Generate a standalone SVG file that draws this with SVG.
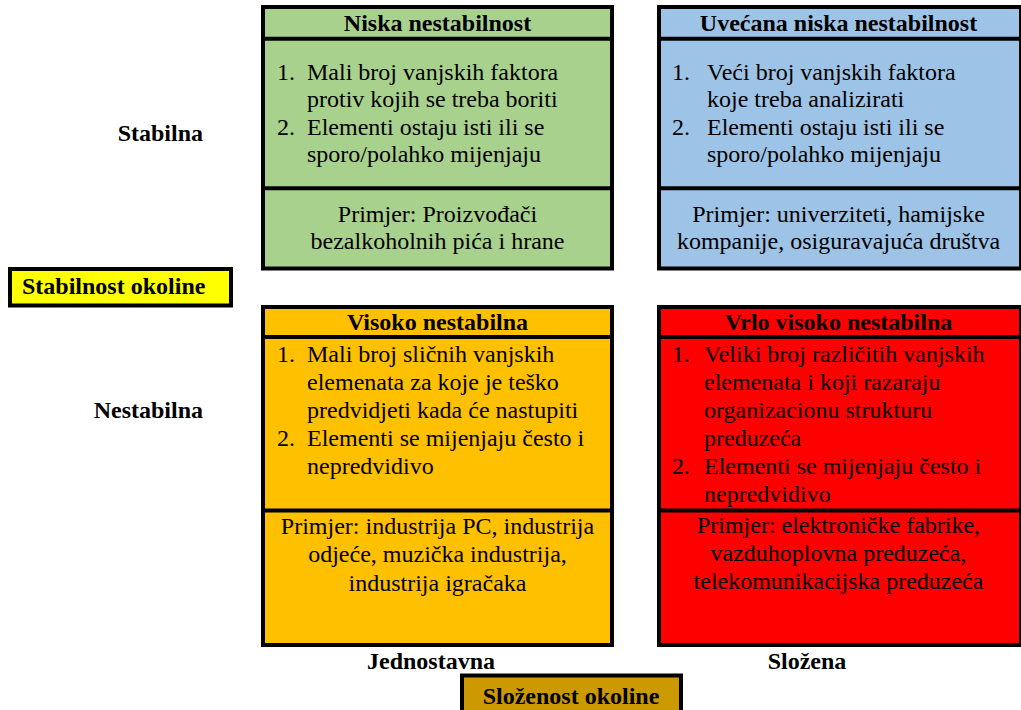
<svg xmlns="http://www.w3.org/2000/svg" width="1021" height="710" viewBox="0 0 1021 710">
  <style>
    text { font-family: "Liberation Serif", "Times New Roman", serif; fill: #000; font-size: 24px; }
    .box { stroke: #000; stroke-width: 4; }
    .rule { stroke: #000; stroke-width: 4; }
    .head { font-weight: bold; text-anchor: middle; }
    .mid { text-anchor: middle; }
    .axis { font-weight: bold; }
    .green { fill: #A9D18E; }
    .blue { fill: #9DC3E6; }
    .orange { fill: #FFC000; }
    .red { fill: #FF0000; }
  </style>

  <rect width="1021" height="710" fill="#fff"/>

  <!-- Quadrant: stable / simple -->
  <g id="niska-nestabilnost">
    <rect class="box green" x="263" y="7" width="349" height="261.5"/>
    <line class="rule" x1="263" y1="38.7" x2="612" y2="38.7"/>
    <line class="rule" x1="263" y1="188.3" x2="612" y2="188.3"/>
    <text class="head" x="437.5" y="31">Niska nestabilnost</text>
    <text x="277" y="80">1.</text>
    <text x="307" y="80">Mali broj vanjskih faktora</text>
    <text x="307" y="107">protiv kojih se treba boriti</text>
    <text x="277" y="135">2.</text>
    <text x="307" y="135">Elementi ostaju isti ili se</text>
    <text x="307" y="162">sporo/polahko mijenjaju</text>
    <text class="mid" x="437.5" y="222">Primjer: Proizvođači</text>
    <text class="mid" x="437.5" y="249">bezalkoholnih pića i hrane</text>
  </g>

  <!-- Quadrant: stable / complex -->
  <g id="uvecana-niska-nestabilnost">
    <rect class="box blue" x="659" y="7" width="362" height="261.5"/>
    <line class="rule" x1="659" y1="38.7" x2="1021" y2="38.7"/>
    <line class="rule" x1="659" y1="188.3" x2="1021" y2="188.3"/>
    <text class="head" x="838.5" y="31">Uvećana niska nestabilnost</text>
    <text x="672" y="80">1.</text>
    <text x="707" y="80">Veći broj vanjskih faktora</text>
    <text x="707" y="107">koje treba analizirati</text>
    <text x="672" y="135">2.</text>
    <text x="707" y="135">Elementi ostaju isti ili se</text>
    <text x="707" y="162">sporo/polahko mijenjaju</text>
    <text class="mid" x="838.5" y="222">Primjer: univerziteti, hamijske</text>
    <text class="mid" x="838.5" y="249">kompanije, osiguravajuća društva</text>
  </g>

  <!-- Quadrant: unstable / simple -->
  <g id="visoko-nestabilna">
    <rect class="box orange" x="263" y="307" width="349" height="338"/>
    <line class="rule" x1="263" y1="337" x2="612" y2="337"/>
    <line class="rule" x1="263" y1="510.5" x2="612" y2="510.5"/>
    <text class="head" x="437.5" y="330">Visoko nestabilna</text>
    <text x="277" y="362">1.</text>
    <text x="307" y="362">Mali broj sličnih vanjskih</text>
    <text x="307" y="390">elemenata za koje je teško</text>
    <text x="307" y="418">predvidjeti kada će nastupiti</text>
    <text x="277" y="446">2.</text>
    <text x="307" y="446">Elementi se mijenjaju često i</text>
    <text x="307" y="474">nepredvidivo</text>
    <text class="mid" x="437.5" y="534">Primjer: industrija PC, industrija</text>
    <text class="mid" x="437.5" y="562">odjeće, muzička industrija,</text>
    <text class="mid" x="437.5" y="591">industrija igračaka</text>
  </g>

  <!-- Quadrant: unstable / complex -->
  <g id="vrlo-visoko-nestabilna">
    <rect class="box red" x="659" y="307" width="362" height="338"/>
    <line class="rule" x1="659" y1="337" x2="1021" y2="337"/>
    <line class="rule" x1="659" y1="510.5" x2="1021" y2="510.5"/>
    <text class="head" x="838.5" y="330">Vrlo visoko nestabilna</text>
    <text x="672" y="362">1.</text>
    <text x="704" y="362">Veliki broj različitih vanjskih</text>
    <text x="704" y="390">elemenata i koji razaraju</text>
    <text x="704" y="418">organizacionu strukturu</text>
    <text x="704" y="446">preduzeća</text>
    <text x="672" y="474">2.</text>
    <text x="704" y="474">Elementi se mijenjaju često i</text>
    <text x="704" y="502">nepredvidivo</text>
    <text class="mid" x="838.5" y="533">Primjer: elektroničke fabrike,</text>
    <text class="mid" x="838.5" y="561">vazduhoplovna preduzeća,</text>
    <text class="mid" x="838.5" y="589">telekomunikacijska preduzeća</text>
  </g>

  <!-- Vertical axis: environment stability -->
  <g id="stabilnost-okoline">
    <rect x="10" y="269" width="221" height="36.5" fill="#FFFF00" stroke="#000" stroke-width="4"/>
    <text class="axis" x="22" y="294">Stabilnost okoline</text>
  </g>
  <g id="stabilna">
    <text class="axis" x="203" y="141" text-anchor="end">Stabilna</text>
  </g>
  <g id="nestabilna">
    <text class="axis" x="203" y="418" text-anchor="end">Nestabilna</text>
  </g>

  <!-- Horizontal axis: environment complexity -->
  <g id="jednostavna">
    <text class="axis" x="431" y="669" text-anchor="middle">Jednostavna</text>
  </g>
  <g id="slozena">
    <text class="axis" x="807" y="669" text-anchor="middle">Složena</text>
  </g>
  <g id="slozenost-okoline">
    <rect x="462" y="675.5" width="219" height="50" fill="#CC9900" stroke="#000" stroke-width="4"/>
    <text class="axis" x="571" y="704" text-anchor="middle">Složenost okoline</text>
  </g>

  <g id="connectors"></g>
</svg>
